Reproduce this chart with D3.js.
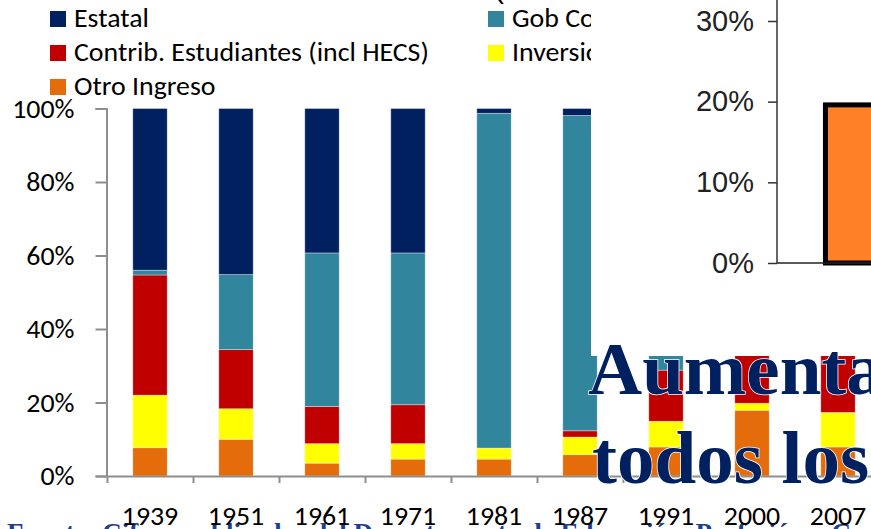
<!DOCTYPE html>
<html>
<head>
<meta charset="utf-8">
<script src="https://cdn.jsdelivr.net/npm/d3@7"></script>
<style>
  body { margin: 0; background: #fff; }
  svg { display: block; }
</style>
</head>
<body>
<div id="chart"></div>
<script>
// data (percent of income)
var years = ["1939", "1951", "1961", "1971", "1981", "1987", "1991", "2000", "2007"];
var otroIngreso        = [7.7, 10.0, 3.5, 4.6, 4.6, 5.8, 7.9, 17.9, 7.9];
var inversiones        = [14.3, 8.3, 5.3, 4.2, 3.0, 4.8, 7.0, 1.9, 9.4];
var contribEstudiantes = [32.7, 16.1, 10.1, 10.6, 0.0, 1.7, 13.9, 37.0, 40.0];
var gobCommonwealth    = [1.3, 20.4, 41.8, 41.3, 91.1, 85.8, 70.2, 42.2, 41.7];
var estatal            = [44.0, 45.2, 39.3, 39.3, 1.3, 1.9, 1.0, 1.0, 1.0];
var yTicks = [0, 20, 40, 60, 80, 100];

// the small chart pasted over the top right corner
var insetCats = ["2000"];
var insetValues = [19.6];
var insetTicks = [0, 10, 20, 30];

var W = 871, H = 529;
var calibri = "Carlito, Calibri, Lato, sans-serif";

var svg = d3.select("#chart").append("svg")
    .attr("width", W).attr("height", H);
svg.append("rect").attr("width", W).attr("height", H).attr("fill", "#fff");

// narrow the sans text a bit so it runs as wide as Calibri does
var probe = svg.append("text").style("font-family", calibri).style("font-size", "27px")
    .text("Contrib. Estudiantes (incl HECS)");
var k = 355 / probe.node().getComputedTextLength();
probe.remove();
function squeeze(sel) {
    sel.attr("transform", function() {
        var x = +this.getAttribute("x") || 0;
        return "translate(" + x + ",0) scale(" + k + ",1) translate(" + (-x) + ",0)";
    });
}

var series = [
    {key: "otro", name: "Otro Ingreso", color: "#E46C0A", values: otroIngreso},
    {key: "inv", name: "Inversiones", color: "#FFFF00", values: inversiones},
    {key: "contrib", name: "Contrib. Estudiantes (incl HECS)", color: "#C00000", values: contribEstudiantes},
    {key: "gob", name: "Gob Commonwealth", color: "#31859C", values: gobCommonwealth},
    {key: "estatal", name: "Estatal", color: "#002060", values: estatal}
];
var rows = years.map(function(yr, i) {
    var r = {year: yr};
    series.forEach(function(s) { r[s.key] = s.values[i]; });
    return r;
});

var x = d3.scaleBand().domain(years).range([107, 881])
    .paddingInner(0.6).paddingOuter(0.3);
var y = d3.scaleLinear().domain([0, 100]).range([476, 108.5]);

var stack = d3.stack().keys(series.map(function(s) { return s.key; }));
var layers = stack(rows);

// Fuente line, mostly below the edge of the picture
svg.append("text")
    .attr("x", 7).attr("y", 542)
    .style("font-family", "Liberation Serif, serif")
    .style("font-weight", "bold")
    .style("font-size", "27px")
    .attr("fill", "#1F3F8A")
    .text("Fuente: Cifras publicadas del Departamento de Educación, Profesión y Capacitación");

// stacked bars
svg.selectAll(".layer")
    .data(layers)
    .enter().append("g")
    .attr("class", "layer")
    .attr("fill", function(d, i) { return series[i].color; })
    .selectAll("rect")
    .data(function(d) { return d; })
    .enter().append("rect")
    .attr("x", function(d) { return x(d.data.year); })
    .attr("y", function(d) { return y(d[1]); })
    .attr("width", x.bandwidth())
    .attr("height", function(d) { return y(d[0]) - y(d[1]); })
    .attr("stroke", "#fff")
    .attr("stroke-opacity", 0.45)
    .attr("stroke-width", 0.8);

// y axis
var yAxis = svg.append("g")
    .attr("transform", "translate(106.5,0)")
    .call(d3.axisLeft(y).tickValues(yTicks).tickSize(11).tickPadding(21)
        .tickFormat(function(d) { return d + "%"; }));
yAxis.select(".domain").attr("stroke", "#8e8e8e").attr("stroke-width", 2);
yAxis.selectAll(".tick line").attr("stroke", "#8e8e8e").attr("stroke-width", 2);
yAxis.selectAll("text")
    .style("font-family", calibri).style("font-size", "27px").attr("fill", "#000")
    .call(squeeze);

// x axis: ticks sit between the categories
var edges = d3.scaleLinear().domain([0, years.length]).range([107, 881]);
var xEdge = svg.append("g")
    .attr("transform", "translate(0,476)")
    .call(d3.axisBottom(edges).tickValues(d3.range(years.length + 1))
        .tickSize(7).tickSizeOuter(0).tickFormat(""));
xEdge.select(".domain").attr("stroke", "#8e8e8e").attr("stroke-width", 2);
xEdge.selectAll(".tick line").attr("stroke", "#8e8e8e").attr("stroke-width", 2);

var xAxis = svg.append("g")
    .attr("transform", "translate(0,476)")
    .call(d3.axisBottom(x).tickSize(0).tickPadding(30));
xAxis.select(".domain").remove();
xAxis.selectAll("text")
    .style("font-family", calibri).style("font-size", "27px").attr("fill", "#000")
    .call(squeeze);

// legend
var legendPos = {
    estatal: [50, 18], gob: [488, 18],
    contrib: [50, 52], inv: [488, 52],
    otro: [50, 86]
};
series.forEach(function(s) {
    var p = legendPos[s.key];
    var g = svg.append("g").attr("transform", "translate(" + p[0] + "," + p[1] + ")");
    g.append("rect").attr("x", 0).attr("y", -7).attr("width", 16).attr("height", 16)
        .attr("fill", s.color);
    g.append("text").attr("x", 24).attr("y", 0).attr("dy", "0.35em")
        .style("font-family", calibri).style("font-size", "27px").attr("fill", "#000")
        .text(s.name)
        .call(squeeze);
});

// a bit of a title above, cut by the top edge
svg.append("text")
    .attr("x", 494).attr("y", -2)
    .style("font-family", "Liberation Sans, sans-serif")
    .style("font-size", "30px")
    .attr("fill", "#000")
    .text("(");

// inset chart pasted on top
svg.append("rect")
    .attr("x", 591).attr("y", 0).attr("width", W - 591).attr("height", 356)
    .attr("fill", "#fff");

var iy = d3.scaleLinear().domain([0, 30]).range([263, 21]);
var ix = d3.scaleBand().domain(insetCats).range([777, 1100])
    .paddingInner(0.3).paddingOuter(0.15);

svg.append("g").selectAll("rect")
    .data(insetValues)
    .enter().append("rect")
    .attr("x", function(d, i) { return ix(insetCats[i]); })
    .attr("y", function(d) { return iy(d); })
    .attr("width", ix.bandwidth())
    .attr("height", function(d) { return iy(0) - iy(d); })
    .attr("fill", "#FF8026")
    .attr("stroke", "#000")
    .attr("stroke-width", 5);

var iAxis = svg.append("g")
    .attr("transform", "translate(777,0)")
    .call(d3.axisLeft(iy).tickValues(insetTicks).tickSize(9).tickPadding(14)
        .tickSizeOuter(0).tickFormat(function(d) { return d + "%"; }));
iAxis.select(".domain").attr("stroke", "#333").attr("stroke-width", 1.5)
    .attr("d", "M0," + iy(0) + "V0");
iAxis.selectAll(".tick line").attr("stroke", "#333").attr("stroke-width", 1.5);
iAxis.selectAll("text")
    .style("font-family", "Liberation Sans, Arial, sans-serif")
    .style("font-size", "29px")
    .attr("fill", "#222");

svg.append("line")
    .attr("x1", 777).attr("x2", W)
    .attr("y1", iy(0)).attr("y2", iy(0))
    .attr("stroke", "#222").attr("stroke-width", 1.5);

// big slide title over everything
var big = svg.append("g")
    .style("font-family", "Liberation Serif, 'DejaVu Serif', serif")
    .style("font-weight", "bold")
    .style("font-size", "75px")
    .attr("fill", "#002060")
    .attr("stroke", "#fff")
    .attr("stroke-width", 1.5)
    .attr("paint-order", "stroke");
big.append("text").attr("x", 588).attr("y", 394).text("Aumenta");
big.append("text").attr("x", 592).attr("y", 483).text("todos los");
</script>
</body>
</html>
